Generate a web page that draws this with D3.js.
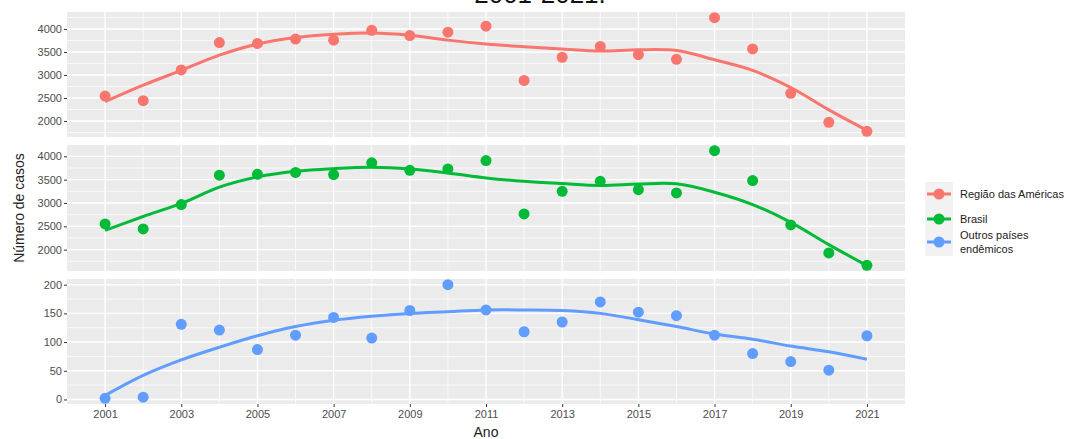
<!DOCTYPE html>
<html>
<head>
<meta charset="utf-8">
<script src="https://cdn.jsdelivr.net/npm/d3@7"></script>
<style>
  body { margin: 0; background: #fff; }
  svg { display: block; font-family: "Liberation Sans", Arial, sans-serif; }
</style>
</head>
<body>
<svg id="chart" width="1081" height="439"></svg>
<script>
let d3 = window.d3;

// data
const years = [2001, 2002, 2003, 2004, 2005, 2006, 2007, 2008, 2009, 2010, 2011,
  2012, 2013, 2014, 2015, 2016, 2017, 2018, 2019, 2020, 2021];
const xTicks = [2001, 2003, 2005, 2007, 2009, 2011, 2013, 2015, 2017, 2019, 2021];

const americas = [2540, 2440, 3110, 3705, 3685, 3780, 3755, 3970, 3855, 3930, 4060,
  2880, 3385, 3620, 3440, 3340, 4245, 3565, 2600, 1970, 1775];
const brasil = [2550, 2445, 2965, 3595, 3615, 3655, 3610, 3860, 3700, 3730, 3910,
  2765, 3250, 3465, 3285, 3215, 4120, 3480, 2530, 1930, 1665];
const outros = [2, 4, 131, 121, 87, 112, 143, 107, 155, 200, 156,
  118, 135, 170, 152, 146, 112, 80, 66, 51, 111];

// smoothed (loess) curve, read at each year
const americasFit = [2418, 2777, 3099, 3430, 3672, 3814, 3886, 3914, 3865, 3757, 3672,
  3614, 3564, 3520, 3548, 3530, 3330, 3099, 2727, 2240, 1796];
const brasilFit = [2414, 2710, 2990, 3340, 3558, 3679, 3736, 3764, 3730, 3644, 3537,
  3464, 3415, 3375, 3405, 3410, 3230, 2965, 2586, 2108, 1658];
const outrosFit = [7, 42, 69, 91, 111, 127, 138, 145, 150, 153, 156,
  156, 155, 150, 139, 127, 114, 105, 93, 83, 70];

const yTicksBig = [2000, 2500, 3000, 3500, 4000];
const yTicksSmall = [0, 50, 100, 150, 200];

const seriesNames = ["Região das Américas", "Brasil", "Outros países endêmicos"];
const colors = ["#F8766D", "#00BA38", "#619CFF"];

const svg = d3.select("#chart");

const left = 67, right = 905;
const panels = [
  { top: 12, bottom: 137, vals: americas, fit: americasFit, ticks: yTicksBig, step: 500 },
  { top: 145, bottom: 271, vals: brasil, fit: brasilFit, ticks: yTicksBig, step: 500 },
  { top: 279, bottom: 404, vals: outros, fit: outrosFit, ticks: yTicksSmall, step: 50 },
];

const x = d3.scaleLinear().domain([2000, 2022]).range([left, right]);

// title, mostly cut off at the top in the reference
svg.append("text")
  .attr("x", 540)
  .attr("y", 3)
  .attr("text-anchor", "middle")
  .style("font-size", "26px")
  .style("fill", "#111")
  .text("2001-2021.");

panels.forEach((p, i) => {
  const ext = d3.extent(p.vals);
  const pad = (ext[1] - ext[0]) * 0.05;
  const y = d3.scaleLinear().domain([ext[0] - pad, ext[1] + pad]).range([p.bottom, p.top]);
  const g = svg.append("g");

  g.append("rect")
    .attr("x", left)
    .attr("y", p.top)
    .attr("width", right - left)
    .attr("height", p.bottom - p.top)
    .attr("fill", "#EBEBEB");

  // minor grid
  const yMinor = d3.range(p.ticks[0] - p.step / 2, p.ticks[p.ticks.length - 1] + p.step, p.step)
    .filter((v) => v > y.domain()[0] && v < y.domain()[1]);
  g.selectAll(".hminor").data(yMinor).enter().append("line")
    .attr("x1", left).attr("x2", right)
    .attr("y1", (d) => y(d)).attr("y2", (d) => y(d))
    .attr("stroke", "#fff").attr("stroke-width", 0.7);
  g.selectAll(".vminor").data(years.filter((d) => d % 2 === 0)).enter().append("line")
    .attr("x1", (d) => x(d)).attr("x2", (d) => x(d))
    .attr("y1", p.top).attr("y2", p.bottom)
    .attr("stroke", "#fff").attr("stroke-width", 0.7);

  // major grid
  g.selectAll(".hmajor").data(p.ticks).enter().append("line")
    .attr("x1", left).attr("x2", right)
    .attr("y1", (d) => y(d)).attr("y2", (d) => y(d))
    .attr("stroke", "#fff").attr("stroke-width", 1.4);
  g.selectAll(".vmajor").data(xTicks).enter().append("line")
    .attr("x1", (d) => x(d)).attr("x2", (d) => x(d))
    .attr("y1", p.top).attr("y2", p.bottom)
    .attr("stroke", "#fff").attr("stroke-width", 1.4);

  // y axis
  const yAxis = d3.axisLeft(y).tickValues(p.ticks).tickFormat(d3.format("d")).tickSize(3).tickPadding(2);
  const yAxisG = g.append("g").attr("transform", `translate(${left},0)`).call(yAxis);
  yAxisG.select(".domain").remove();
  yAxisG.selectAll("line").attr("stroke", "#333");
  yAxisG.selectAll("text")
    .attr("fill", "#4D4D4D")
    .style("font-size", "11px")
    .style("font-family", "Liberation Sans, Arial, sans-serif");

  // smooth line
  const line = d3.line()
    .x((d, j) => x(years[j]))
    .y((d) => y(d))
    .curve(d3.curveCatmullRom.alpha(0.5));
  g.append("path")
    .datum(p.fit)
    .attr("d", line)
    .attr("fill", "none")
    .attr("stroke", colors[i])
    .attr("stroke-width", 3);

  // points
  g.selectAll("circle").data(p.vals).enter().append("circle")
    .attr("cx", (d, j) => x(years[j]))
    .attr("cy", (d) => y(d))
    .attr("r", 5.5)
    .attr("fill", colors[i]);

  // x axis only on the last panel
  if (i === panels.length - 1) {
    const xAxis = d3.axisBottom(x).tickValues(xTicks).tickFormat(d3.format("d")).tickSize(3).tickPadding(3);
    const xAxisG = g.append("g").attr("transform", `translate(0,${p.bottom})`).call(xAxis);
    xAxisG.select(".domain").remove();
    xAxisG.selectAll("line").attr("stroke", "#333");
    xAxisG.selectAll("text")
      .attr("fill", "#4D4D4D")
      .style("font-size", "11px")
      .style("font-family", "Liberation Sans, Arial, sans-serif");
  }
});

// axis titles
svg.append("text")
  .attr("x", 486)
  .attr("y", 437)
  .attr("text-anchor", "middle")
  .style("font-size", "14px")
  .style("fill", "#222")
  .text("Ano");

svg.append("text")
  .attr("transform", "translate(24,208) rotate(-90)")
  .attr("text-anchor", "middle")
  .style("font-size", "14px")
  .style("fill", "#222")
  .text("Número de casos");

// legend
const legendY = [194, 219, 242];
const legend = svg.append("g");
legend.append("rect")
  .attr("x", 925).attr("y", 182)
  .attr("width", 28).attr("height", 74)
  .attr("fill", "#F2F2F2");

seriesNames.forEach((name, i) => {
  const gy = legendY[i];
  legend.append("line")
    .attr("x1", 927).attr("x2", 951)
    .attr("y1", gy).attr("y2", gy)
    .attr("stroke", colors[i]).attr("stroke-width", 3);
  legend.append("circle")
    .attr("cx", 939).attr("cy", gy).attr("r", 5.5)
    .attr("fill", colors[i]);
  const t = legend.append("text")
    .attr("x", 960)
    .style("font-size", "11px")
    .style("fill", "#222");
  if (i === 2) {
    t.append("tspan").attr("x", 960).attr("y", gy - 3).text("Outros países");
    t.append("tspan").attr("x", 960).attr("y", gy + 11).text("endêmicos");
  } else {
    t.attr("y", gy + 4).text(name);
  }
});
</script>
</body>
</html>
